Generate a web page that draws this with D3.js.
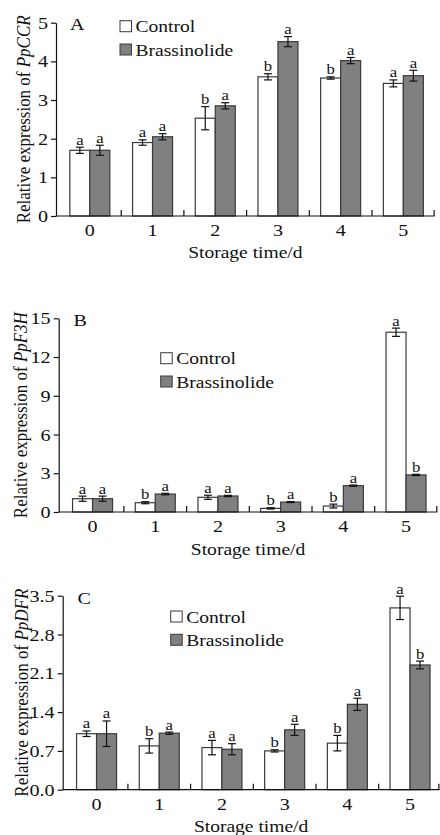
<!DOCTYPE html>
<html>
<head>
<meta charset="utf-8">
<script src="https://cdn.jsdelivr.net/npm/d3@7"></script>
<style>
  html, body { margin: 0; padding: 0; background: #fff; }
  svg { display: block; }
</style>
</head>
<body>
<svg id="chart" width="440" height="835"></svg>
<script>
// ---------- DATA ----------
const categories = ["0", "1", "2", "3", "4", "5"];
const seriesNames = ["Control", "Brassinolide"];

// Panel A: PpCCR
const ccrControl = [1.70, 1.90, 2.53, 3.60, 3.57, 3.43];
const ccrControlErr = [0.08, 0.07, 0.30, 0.08, 0.03, 0.09];
const ccrBrass = [1.70, 2.05, 2.85, 4.51, 4.02, 3.63];
const ccrBrassErr = [0.13, 0.08, 0.08, 0.13, 0.08, 0.14];
const ccrControlSig = ["a", "a", "b", "b", "b", "a"];
const ccrBrassSig = ["a", "a", "a", "a", "a", "a"];
const ccrTicks = [0, 1, 2, 3, 4, 5];

// Panel B: PpF3H
const f3hControl = [1.03, 0.72, 1.14, 0.28, 0.46, 13.92];
const f3hControlErr = [0.20, 0.08, 0.16, 0.05, 0.15, 0.32];
const f3hBrass = [1.03, 1.39, 1.24, 0.77, 2.04, 2.87];
const f3hBrassErr = [0.20, 0.06, 0.05, 0.04, 0.05, 0.05];
const f3hControlSig = ["a", "b", "a", "b", "b", "a"];
const f3hBrassSig = ["a", "a", "a", "a", "a", "b"];
const f3hTicks = [0, 3, 6, 9, 12, 15];

// Panel C: PpDFR
const dfrControl = [1.01, 0.79, 0.76, 0.70, 0.84, 3.28];
const dfrControlErr = [0.05, 0.13, 0.13, 0.02, 0.14, 0.21];
const dfrBrass = [1.01, 1.02, 0.73, 1.08, 1.54, 2.25];
const dfrBrassErr = [0.23, 0.02, 0.10, 0.10, 0.11, 0.07];
const dfrControlSig = ["a", "b", "a", "b", "b", "a"];
const dfrBrassSig = ["a", "a", "a", "a", "a", "b"];
const dfrTicks = [0, 0.7, 1.4, 2.1, 2.8, 3.5];

const xTitle = "Storage time/d";
const yPrefix = "Relative expression of ";

// ---------- STYLE / LAYOUT ----------
const FONT = "'Liberation Serif', 'Times New Roman', serif";
const SX = 1.15;           // horizontal stretch of the glyphs in the reference
const colors = { Control: "#ffffff", Brassinolide: "#808082" };
const barStroke = "#3a3a3a";

const panels = [
  { letter: "A", gene: "PpCCR", control: ccrControl, controlErr: ccrControlErr, brass: ccrBrass, brassErr: ccrBrassErr,
    controlSig: ccrControlSig, brassSig: ccrBrassSig, ticks: ccrTicks, fmt: d3.format("d"),
    yTop: 22.7, yBottom: 216, axisX: 56, legX: 120, legY: 20.7, letterX: 70, letterY: 29.5,
    yLabelX: 30, titleY: 257.5 },
  { letter: "B", gene: "PpF3H", control: f3hControl, controlErr: f3hControlErr, brass: f3hBrass, brassErr: f3hBrassErr,
    controlSig: f3hControlSig, brassSig: f3hBrassSig, ticks: f3hTicks, fmt: d3.format("d"),
    yTop: 318.3, yBottom: 512, axisX: 58.7, legX: 160.7, legY: 352.7, letterX: 73.5, letterY: 325.5,
    yLabelX: 27, titleY: 555 },
  { letter: "C", gene: "PpDFR", control: dfrControl, controlErr: dfrControlErr, brass: dfrBrass, brassErr: dfrBrassErr,
    controlSig: dfrControlSig, brassSig: dfrBrassSig, ticks: dfrTicks, fmt: d3.format(".1f"),
    yTop: 595.7, yBottom: 789.7, axisX: 62.7, legX: 170.7, legY: 611, letterX: 77.5, letterY: 603.5,
    yLabelX: 28, titleY: 832 }
];

const svg = d3.select("#chart");

function stext(g, x, y, str, size, anchor) {
  return g.append("text")
    .attr("transform", `translate(${x},${y}) scale(${SX},1)`)
    .attr("font-family", FONT)
    .attr("font-size", size)
    .attr("text-anchor", anchor || "start")
    .attr("fill", "#111")
    .text(str);
}

panels.forEach(p => {
  const g = svg.append("g");
  const step = 62.7;
  const x0 = p.axisX + 2.5;
  const x = d3.scaleBand().domain(categories).range([x0, x0 + step * categories.length]).padding(0);
  const x1 = d3.scaleBand().domain(seriesNames).range([0, 40]).padding(0);
  const yMax = p.ticks[p.ticks.length - 1];
  const y = d3.scaleLinear().domain([0, yMax]).range([p.yBottom, p.yTop]);
  const axisEnd = Math.min(x0 + step * categories.length, 439.5);

  // bars
  const rows = [];
  categories.forEach((c, i) => {
    rows.push({ c, s: "Control", v: p.control[i], e: p.controlErr[i], sig: p.controlSig[i] });
    rows.push({ c, s: "Brassinolide", v: p.brass[i], e: p.brassErr[i], sig: p.brassSig[i] });
  });
  const off = (x.bandwidth() - 40) / 2;
  const bx = d => x(d.c) + off + x1(d.s);
  const bc = d => bx(d) + x1.bandwidth() / 2;

  g.selectAll("rect.bar").data(rows).join("rect")
    .attr("class", "bar")
    .attr("x", bx)
    .attr("y", d => y(d.v))
    .attr("width", x1.bandwidth())
    .attr("height", d => y(0) - y(d.v))
    .attr("fill", d => colors[d.s])
    .attr("stroke", barStroke)
    .attr("stroke-width", 1.2);

  // error bars
  const eb = g.selectAll("g.err").data(rows).join("g").attr("class", "err")
    .attr("stroke", "#111").attr("stroke-width", 1.2);
  eb.append("line").attr("x1", bc).attr("x2", bc)
    .attr("y1", d => y(d.v + d.e)).attr("y2", d => y(Math.max(0, d.v - d.e)));
  eb.append("line").attr("x1", d => bc(d) - 4).attr("x2", d => bc(d) + 4)
    .attr("y1", d => y(d.v + d.e)).attr("y2", d => y(d.v + d.e));
  eb.append("line").attr("x1", d => bc(d) - 4).attr("x2", d => bc(d) + 4)
    .attr("y1", d => y(Math.max(0, d.v - d.e))).attr("y2", d => y(Math.max(0, d.v - d.e)));

  // significance letters
  rows.forEach(d => {
    stext(g, bc(d), y(d.v + d.e) - 2.5, d.sig, 14.5, "middle");
  });

  // y axis
  const yAxis = d3.axisLeft(y).tickValues(p.ticks).tickFormat(p.fmt).tickSize(5).tickPadding(2).tickSizeOuter(0);
  const ya = g.append("g").attr("transform", `translate(${p.axisX},0)`).call(yAxis);
  ya.select(".domain").attr("stroke", "#111").attr("stroke-width", 1.2);
  ya.selectAll(".tick line").attr("stroke", "#111").attr("stroke-width", 1.2);
  ya.selectAll(".tick text")
    .attr("font-family", FONT).attr("font-size", 17.5).attr("fill", "#111")
    .attr("transform", `scale(${SX},1)`);

  // x axis: baseline line + labels (centered) + inward ticks at band boundaries
  const xAxis = d3.axisBottom(x).tickSize(0).tickPadding(8).tickSizeOuter(0);
  const xa = g.append("g").attr("transform", `translate(0,${p.yBottom})`).call(xAxis);
  xa.select(".domain").remove();
  xa.selectAll(".tick text")
    .attr("font-family", FONT).attr("font-size", 17.5).attr("fill", "#111")
    .attr("transform", `scale(${SX},1)`);
  g.append("line")
    .attr("x1", p.axisX).attr("x2", axisEnd)
    .attr("y1", p.yBottom).attr("y2", p.yBottom)
    .attr("stroke", "#111").attr("stroke-width", 1.2);
  g.selectAll("line.bt").data(categories).join("line").attr("class", "bt")
    .attr("x1", d => Math.min(x(d) + x.bandwidth(), axisEnd - 0.6))
    .attr("x2", d => Math.min(x(d) + x.bandwidth(), axisEnd - 0.6))
    .attr("y1", p.yBottom).attr("y2", p.yBottom - 6)
    .attr("stroke", "#111").attr("stroke-width", 1.2);

  // x title
  stext(g, (p.axisX + axisEnd) / 2, p.titleY, xTitle, 17, "middle");

  // y title (rotated)
  const yl = g.append("text")
    .attr("transform", `translate(${p.yLabelX},${(p.yTop + p.yBottom) / 2}) scale(${SX},1) rotate(-90)`)
    .attr("font-family", FONT).attr("font-size", 17).attr("text-anchor", "middle").attr("fill", "#111");
  yl.append("tspan").text(yPrefix);
  yl.append("tspan").attr("font-style", "italic").text(p.gene);

  // panel letter
  stext(g, p.letterX, p.letterY, p.letter, 17.5, "start");

  // legend
  seriesNames.forEach((s, i) => {
    const ly = p.legY + i * 23.3;
    g.append("rect").attr("x", p.legX).attr("y", ly).attr("width", 11.5).attr("height", 11)
      .attr("fill", colors[s]).attr("stroke", barStroke).attr("stroke-width", 1);
    stext(g, p.legX + 15.5, ly + 11.5, s, 17, "start");
  });
});
</script>
</body>
</html>
